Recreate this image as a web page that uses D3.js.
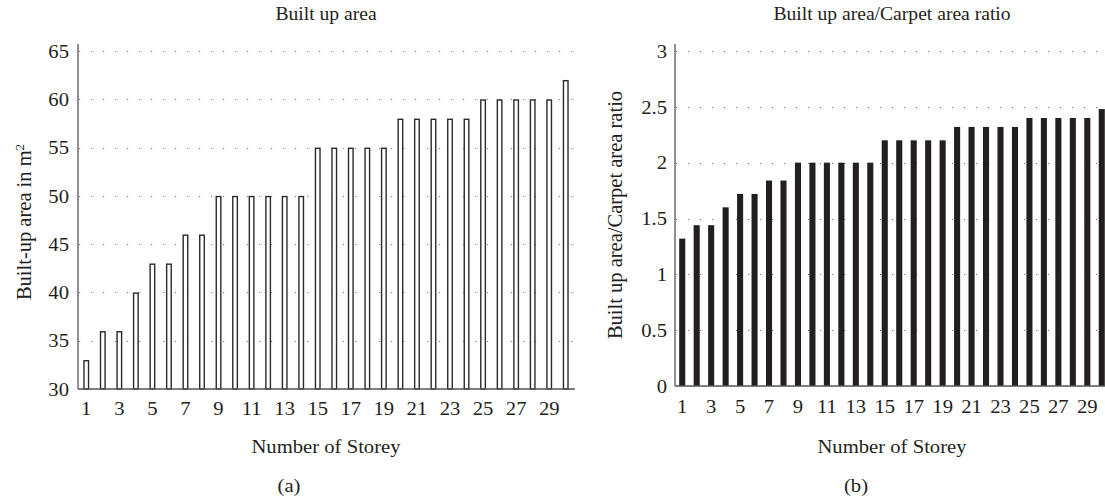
<!DOCTYPE html>
<html>
<head>
<meta charset="utf-8">
<script src="https://cdn.jsdelivr.net/npm/d3@7"></script>
<style>
  body { margin: 0; background: #fff; }
  text { font-family: "Liberation Serif", "Times New Roman", serif; fill: #231f20; }
</style>
</head>
<body>
<div id="chart"></div>
<script>
// data
const storeys = d3.range(1, 31);
const builtUpArea = [33, 36, 36, 40, 43, 43, 46, 46, 50, 50, 50, 50, 50, 50,
  55, 55, 55, 55, 55, 58, 58, 58, 58, 58, 60, 60, 60, 60, 60, 62];
const areaRatio = [1.32, 1.44, 1.44, 1.6, 1.72, 1.72, 1.84, 1.84, 2, 2, 2, 2, 2, 2,
  2.2, 2.2, 2.2, 2.2, 2.2, 2.32, 2.32, 2.32, 2.32, 2.32, 2.4, 2.4, 2.4, 2.4, 2.4, 2.48];
const areaTicks = [30, 35, 40, 45, 50, 55, 60, 65];
const ratioTicks = [0, 0.5, 1, 1.5, 2, 2.5, 3];
const xTickLabels = storeys.filter((d) => d % 2 === 1);

const WIDTH = 1105;
const HEIGHT = 498;
const INK = "#231f20";
const FS = 19.5; // label font size
const SX = 1.06; // the source type is a bit wider than Times

const svg = d3
  .select("#chart")
  .append("svg")
  .attr("width", WIDTH)
  .attr("height", HEIGHT);

function drawPanel(opts) {
  const g = svg.append("g");
  const x = d3
    .scaleBand()
    .domain(storeys)
    .range([opts.left, opts.right])
    .paddingInner(opts.pad)
    .paddingOuter(opts.pad / 2);
  const y = d3
    .scaleLinear()
    .domain(opts.domain)
    .range([opts.bottom, opts.top]);

  // dotted grid
  g.append("g")
    .selectAll("line")
    .data(opts.ticks.slice(1))
    .join("line")
    .attr("x1", opts.left + 1)
    .attr("x2", opts.gridEnd)
    .attr("y1", (d) => Math.round(y(d)) + 0.5)
    .attr("y2", (d) => Math.round(y(d)) + 0.5)
    .attr("stroke", "#777")
    .attr("stroke-width", 1)
    .attr("stroke-dasharray", "1.2 10.8")
    .attr("stroke-dashoffset", -12);

  // bars
  g.append("g")
    .selectAll("rect")
    .data(opts.values)
    .join("rect")
    .attr("x", (d, i) => x(storeys[i]) + (opts.hollow ? 0.7 : 0))
    .attr("width", x.bandwidth() - (opts.hollow ? 1.4 : 0))
    .attr("y", (d) => y(d) + (opts.hollow ? 0.7 : 0))
    .attr("height", (d) => opts.bottom - y(d) - (opts.hollow ? 0.7 : 0))
    .attr("fill", opts.hollow ? "#fff" : INK)
    .attr("stroke", opts.hollow ? "#2a2a2a" : "none")
    .attr("stroke-width", 1.4);

  // y axis (no ticks, just labels)
  g.append("g")
    .attr("transform", `translate(${opts.left - opts.yPad},0)`)
    .call(
      d3.axisLeft(y)
        .tickValues(opts.ticks)
        .tickSize(0)
        .tickPadding(0)
        .tickFormat(d3.format("~g"))
    )
    .call((a) => a.select(".domain").remove())
    .call((a) =>
      a.selectAll("text")
        .attr("font-size", FS).attr("fill", INK).attr("font-family", null)
        .attr("transform", `scale(${SX},1)`)
    );

  // x axis labels
  g.append("g")
    .attr("transform", `translate(0,${opts.bottom})`)
    .call(
      d3.axisBottom(x)
        .tickValues(xTickLabels)
        .tickSize(0)
        .tickPadding(opts.xPad)
    )
    .call((a) => a.select(".domain").remove())
    .call((a) =>
      a.selectAll("text")
        .attr("font-size", FS).attr("fill", INK).attr("font-family", null)
        .attr("transform", `scale(${SX},1)`)
    );

  // axis lines
  g.append("line")
    .attr("x1", opts.left).attr("x2", opts.left)
    .attr("y1", opts.top - 7).attr("y2", opts.bottom)
    .attr("stroke", "#555").attr("stroke-width", 1.3);
  g.append("line")
    .attr("x1", opts.left).attr("x2", opts.axisEnd)
    .attr("y1", opts.bottom).attr("y2", opts.bottom)
    .attr("stroke", "#555").attr("stroke-width", 1.3);

  const cx = (opts.left + opts.right) / 2;

  // title
  g.append("text")
    .attr("transform", `translate(${cx},20) scale(${SX},1)`)
    .attr("text-anchor", "middle")
    .attr("font-size", 18.5)
    .text(opts.title);

  // x title
  g.append("text")
    .attr("transform", `translate(${cx},453) scale(${SX},1)`)
    .attr("text-anchor", "middle")
    .attr("font-size", FS)
    .text("Number of Storey");

  // panel letter
  g.append("text")
    .attr("transform", `translate(${opts.letterX},492) scale(${SX},1)`)
    .attr("text-anchor", "middle")
    .attr("font-size", FS)
    .text(opts.letter);

  // y title
  const yt = g.append("text")
    .attr("transform", `translate(${opts.yTitleX},${opts.yTitleY}) rotate(-90)`)
    .attr("text-anchor", "middle")
    .attr("font-size", 20.5);
  opts.yTitle(yt);
}

drawPanel({
  left: 78, right: 574, top: 51, bottom: 389, gridEnd: 575, axisEnd: 575,
  pad: 0.64, hollow: true, domain: [30, 65], ticks: areaTicks, values: builtUpArea,
  yPad: 9, xPad: 12, title: "Built up area", letter: "(a)", letterX: 289,
  yTitleX: 31, yTitleY: 222,
  yTitle: (t) => {
    t.append("tspan").text("Built-up area in m");
    t.append("tspan").attr("baseline-shift", "super").attr("font-size", 13).text("2");
  },
});

drawPanel({
  left: 675, right: 1109, top: 51, bottom: 386, gridEnd: 1099, axisEnd: 1105,
  pad: 0.58, hollow: false, domain: [0, 3], ticks: ratioTicks, values: areaRatio,
  yPad: 8, xPad: 13, title: "Built up area/Carpet area ratio", letter: "(b)", letterX: 856,
  yTitleX: 622, yTitleY: 215,
  yTitle: (t) => t.text("Built up area/Carpet area ratio"),
});
</script>
</body>
</html>
